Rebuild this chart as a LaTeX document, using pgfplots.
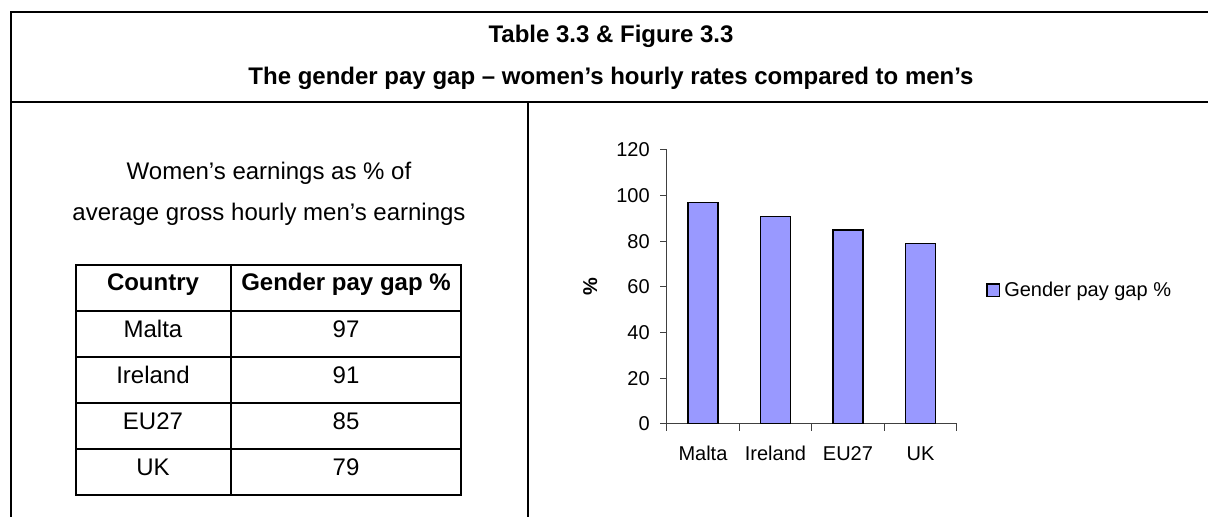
\documentclass[border=0pt]{standalone}
\usepackage{fontspec}
\setmainfont{Liberation Sans}
\usepackage{pgfplots}
\pgfplotsset{compat=1.18}
\definecolor{barc}{HTML}{9999FF}
\pgfplotsset{boxlegend/.style={legend image code/.code={\draw[##1] (0pt,-3.2pt) rectangle (6.4pt,3.2pt);}}}
\begin{document}
\begin{tikzpicture}
\useasboundingbox (0,0) rectangle (604pt,258.5pt);
\begin{axis}[
  at={(333.35pt,46.5pt)}, anchor=south west,
  scale only axis, width=145pt, height=137pt,
  xmin=-0.5, xmax=3.5, ymin=0, ymax=120,
  axis x line*=bottom, axis y line*=left,
  axis line style={black!75, line width=0.5pt},
  ytick={0,20,...,120},
  xtick={-0.5,0.5,1.5,2.5,3.5}, xticklabels={},
  extra x ticks={0,1,2,3},
  extra x tick labels={Malta,Ireland,EU27,UK},
  extra x tick style={major tick length=0pt},
  tick align=outside, major tick length=3.3pt,
  tick style={black!75, line width=0.5pt},
  ticklabel style={font=\fontsize{10}{12}\selectfont},
  x tick label style={yshift=-7.5pt, text height=7.4pt, text depth=0pt},
  y tick label style={xshift=-1.7pt},
  /pgf/number format/assume math mode=true,
  ylabel={\bfseries\%},
  ylabel style={font=\fontsize{10}{12}\selectfont, at={(axis description cs:-0.264,0.5)}, anchor=center},
  legend style={at={(1.10,0.488)}, anchor=west, draw=none, fill=none, inner sep=0pt,
    font=\fontsize{10}{12}\selectfont, cells={anchor=west}},
]
\addplot[ybar, bar width=15pt, fill=barc, draw=black, line width=0.7pt, boxlegend]
  coordinates {(0,97) (1,91) (2,85) (3,79)};
\addlegendentry{Gender pay gap \%}
\end{axis}
\begin{scope}[x=0.5pt,y=-0.5pt,shift={(0pt,258.5pt)}]
  \draw[line width=1pt] (11,522) -- (11,12) -- (1214,12);
  \draw[line width=1pt] (11,102) -- (1214,102);
  \draw[line width=1pt] (528,102) -- (528,522);
  \node[anchor=base, font=\bfseries\fontsize{12}{14}\selectfont] at (611,42.5) {Table 3.3 \& Figure 3.3};
  \node[anchor=base, font=\bfseries\fontsize{12}{14}\selectfont] at (611,84.5) {The gender pay gap – women’s hourly rates compared to men’s};
  \node[anchor=base, font=\fontsize{12}{14}\selectfont] at (269,180) {Women’s earnings as \% of};
  \node[anchor=base, font=\fontsize{12}{14}\selectfont] at (269,221) {average gross hourly men’s earnings};
  \draw[line width=1pt] (75.5,265) rectangle (461,495);
  \foreach \yy in {311,357,403,449} \draw[line width=1pt] (75.5,\yy) -- (461,\yy);
  \draw[line width=1pt] (231,265) -- (231,495);
  \node[anchor=base, font=\bfseries\fontsize{12}{14}\selectfont] at (153,291) {Country};
  \node[anchor=base, font=\bfseries\fontsize{12}{14}\selectfont] at (346,291) {Gender pay gap \%};
  \node[anchor=base, font=\fontsize{12}{14}\selectfont] at (153,338) {Malta};
  \node[anchor=base, font=\fontsize{12}{14}\selectfont] at (346,338) {97};
  \node[anchor=base, font=\fontsize{12}{14}\selectfont] at (153,384) {Ireland};
  \node[anchor=base, font=\fontsize{12}{14}\selectfont] at (346,384) {91};
  \node[anchor=base, font=\fontsize{12}{14}\selectfont] at (153,430) {EU27};
  \node[anchor=base, font=\fontsize{12}{14}\selectfont] at (346,430) {85};
  \node[anchor=base, font=\fontsize{12}{14}\selectfont] at (153,476) {UK};
  \node[anchor=base, font=\fontsize{12}{14}\selectfont] at (346,476) {79};
\end{scope}
\end{tikzpicture}
\end{document}
